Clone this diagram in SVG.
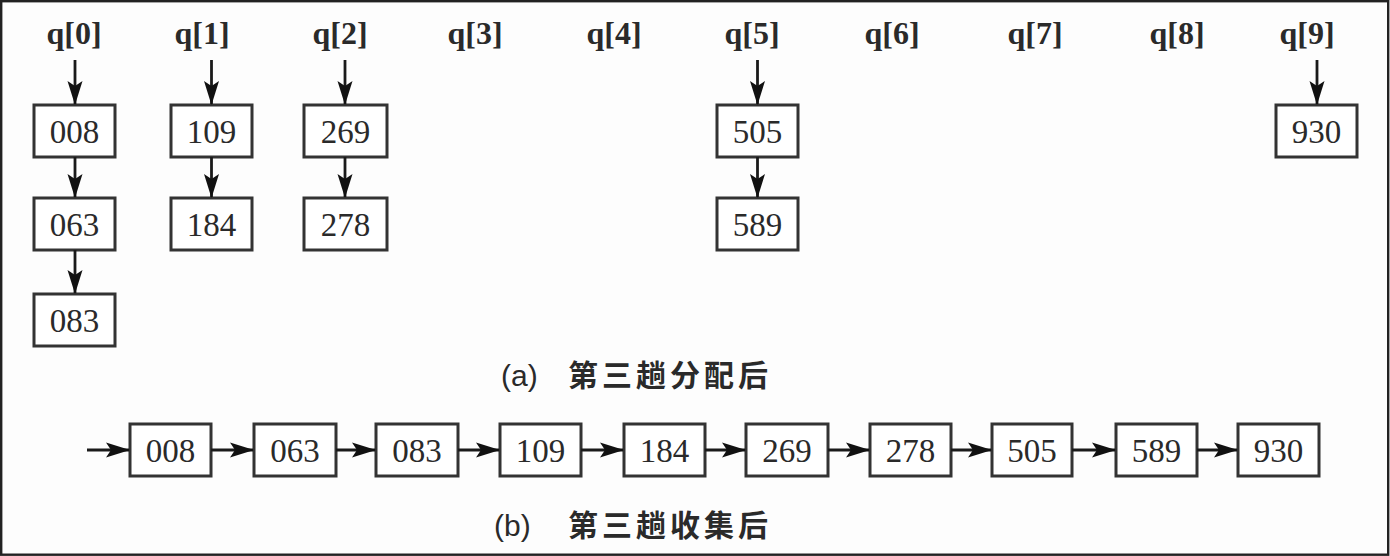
<svg xmlns="http://www.w3.org/2000/svg" width="1390" height="556" viewBox="0 0 1390 556">
<style>
.box rect{fill:#fff;stroke:#333;stroke-width:3}
.box text{font-family:"Liberation Serif",serif;font-size:33px;fill:#2a2a2a;text-anchor:middle}
.lbl{font-family:"Liberation Serif",serif;font-size:32px;font-weight:bold;fill:#2a2a2a;text-anchor:middle}
.cap{font-family:"Liberation Sans","Noto Sans CJK SC",sans-serif;font-size:30px;fill:#2a2a2a}
.cjk{font-family:"Noto Sans CJK SC",sans-serif;font-size:30px;font-weight:bold;fill:#2a2a2a;letter-spacing:4px}
#connectors line{stroke:#1a1a1a;stroke-width:2.8;marker-end:url(#ah)}
</style>
<defs>
<marker id="ah" markerUnits="userSpaceOnUse" viewBox="0 0 24 16" markerWidth="24" markerHeight="16" refX="23" refY="8" orient="auto" overflow="visible">
<path d="M0,0.5 L24,8 L0,15.5 L5,8 z" fill="#111"/>
</marker>
</defs>
<rect x="0" y="0" width="1390" height="556" fill="#fdfdfd"/>
<rect x="1.2" y="1.2" width="1387" height="553.5" fill="none" stroke="#222" stroke-width="2.4"/>

<g id="labels">
<text class="lbl" x="74" y="44">q[0]</text>
<text class="lbl" x="202" y="44">q[1]</text>
<text class="lbl" x="340" y="44">q[2]</text>
<text class="lbl" x="475" y="44">q[3]</text>
<text class="lbl" x="614" y="44">q[4]</text>
<text class="lbl" x="752" y="44">q[5]</text>
<text class="lbl" x="892" y="44">q[6]</text>
<text class="lbl" x="1035" y="44">q[7]</text>
<text class="lbl" x="1177" y="44">q[8]</text>
<text class="lbl" x="1307" y="44">q[9]</text>
</g>

<g id="a008" class="box"><rect x="34" y="105" width="81" height="52"/><text x="74.5" y="143">008</text></g>
<g id="a063" class="box"><rect x="34" y="198" width="81" height="52"/><text x="74.5" y="236">063</text></g>
<g id="a083" class="box"><rect x="34" y="294" width="81" height="52"/><text x="74.5" y="332">083</text></g>
<g id="a109" class="box"><rect x="171" y="105" width="81" height="52"/><text x="211.5" y="143">109</text></g>
<g id="a184" class="box"><rect x="171" y="198" width="81" height="52"/><text x="211.5" y="236">184</text></g>
<g id="a269" class="box"><rect x="304" y="105" width="83" height="52"/><text x="345.5" y="143">269</text></g>
<g id="a278" class="box"><rect x="304" y="198" width="83" height="52"/><text x="345.5" y="236">278</text></g>
<g id="a505" class="box"><rect x="717" y="105" width="81" height="52"/><text x="757.5" y="143">505</text></g>
<g id="a589" class="box"><rect x="717" y="198" width="81" height="52"/><text x="757.5" y="236">589</text></g>
<g id="a930" class="box"><rect x="1276" y="105" width="81" height="52"/><text x="1316.5" y="143">930</text></g>

<g id="b008" class="box"><rect x="130" y="424" width="81" height="52"/><text x="170.5" y="462">008</text></g>
<g id="b063" class="box"><rect x="254" y="424" width="82" height="52"/><text x="295" y="462">063</text></g>
<g id="b083" class="box"><rect x="376" y="424" width="82" height="52"/><text x="417" y="462">083</text></g>
<g id="b109" class="box"><rect x="500" y="424" width="81" height="52"/><text x="540.5" y="462">109</text></g>
<g id="b184" class="box"><rect x="624" y="424" width="81" height="52"/><text x="664.5" y="462">184</text></g>
<g id="b269" class="box"><rect x="746" y="424" width="82" height="52"/><text x="787" y="462">269</text></g>
<g id="b278" class="box"><rect x="870" y="424" width="81" height="52"/><text x="910.5" y="462">278</text></g>
<g id="b505" class="box"><rect x="992" y="424" width="80" height="52"/><text x="1032" y="462">505</text></g>
<g id="b589" class="box"><rect x="1116" y="424" width="81" height="52"/><text x="1156.5" y="462">589</text></g>
<g id="b930" class="box"><rect x="1238" y="424" width="81" height="52"/><text x="1278.5" y="462">930</text></g>

<g id="connectors">
<line x1="75" y1="60" x2="75" y2="104"/>
<line x1="75" y1="157" x2="75" y2="197"/>
<line x1="75" y1="250" x2="75" y2="293"/>
<line x1="211.5" y1="60" x2="211.5" y2="104"/>
<line x1="211.5" y1="157" x2="211.5" y2="197"/>
<line x1="345" y1="60" x2="345" y2="104"/>
<line x1="345" y1="157" x2="345" y2="197"/>
<line x1="757.5" y1="60" x2="757.5" y2="104"/>
<line x1="757.5" y1="157" x2="757.5" y2="197"/>
<line x1="1317" y1="60" x2="1317" y2="104"/>
<line x1="87" y1="450" x2="129" y2="450"/>
<line x1="211" y1="450" x2="253" y2="450"/>
<line x1="336" y1="450" x2="375" y2="450"/>
<line x1="458" y1="450" x2="499" y2="450"/>
<line x1="581" y1="450" x2="623" y2="450"/>
<line x1="705" y1="450" x2="745" y2="450"/>
<line x1="828" y1="450" x2="869" y2="450"/>
<line x1="951" y1="450" x2="991" y2="450"/>
<line x1="1072" y1="450" x2="1115" y2="450"/>
<line x1="1197" y1="450" x2="1237" y2="450"/>
</g>

<g id="captionA">
<text class="cap" x="501" y="386">(a)</text>
<text class="cjk" x="568" y="386">第三趟分配后</text>
</g>
<g id="captionB">
<text class="cap" x="494" y="536">(b)</text>
<text class="cjk" x="568" y="536">第三趟收集后</text>
</g>
</svg>
